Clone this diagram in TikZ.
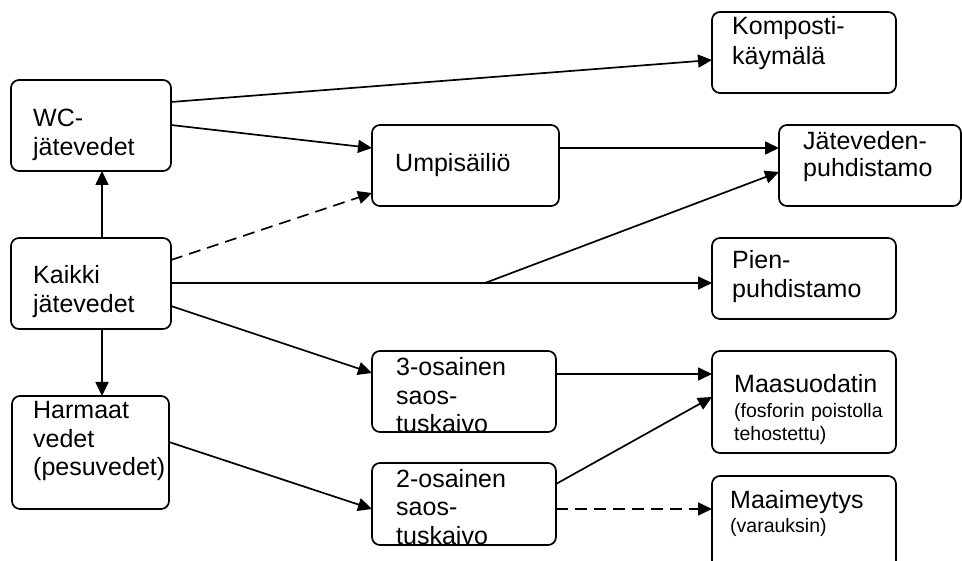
\documentclass[tikz,border=0pt]{standalone}
\usepackage{fontspec}
\setmainfont{Liberation Sans}
\usetikzlibrary{arrows.meta}
\begin{document}
\begin{tikzpicture}[x=1pt,y=-1pt,
  box/.style={draw, line width=1.7pt, rounded corners=8pt, outer sep=0pt, inner sep=0pt, anchor=north west},
  txt/.style={font=\fontsize{25}{28.5}\selectfont, align=left, text width=220pt, inner sep=0pt, anchor=base west},
  small/.style={font=\fontsize{19.5}{23}\selectfont, align=left, text width=220pt, inner sep=0pt, anchor=base west},
  conn/.style={line width=1.7pt, -{Triangle[length=14pt,width=13pt]}},
  dconn/.style={conn, dash pattern=on 12pt off 7pt}]
\useasboundingbox (0,0) rectangle (962,561);
% boxes
\node[box, minimum width=160pt, minimum height=91pt] (wc) at (11,80) {};
\node[box, minimum width=160pt, minimum height=91pt] (kaikki) at (11,238) {};
\node[box, minimum width=157pt, minimum height=113pt] (harmaat) at (12,396) {};
\node[box, minimum width=187pt, minimum height=81pt] (umpi) at (372,125) {};
\node[box, minimum width=184pt, minimum height=81pt] (kompo) at (712,12) {};
\node[box, minimum width=182pt, minimum height=81pt] (jpuhd) at (779,125) {};
\node[box, minimum width=184pt, minimum height=81pt] (pien) at (712,238) {};
\node[box, minimum width=184pt, minimum height=81pt] (s3) at (372,351) {};
\node[box, minimum width=184pt, minimum height=82pt] (s2) at (372,463) {};
\node[box, minimum width=184pt, minimum height=102pt] (maasu) at (712,351) {};
\node[box, minimum width=184pt, minimum height=110pt] (maaim) at (712,476) {};
% texts
\node[txt] (wct) at (33,127) {WC-\\jätevedet};
\node[txt] (kaikkit) at (33,284) {Kaikki\\jätevedet};
\node[txt] (harmaatt) at (33,419) {Harmaat\\vedet\\(pesuvedet)};
\node[txt] (umpit) at (395,172) {Umpisäiliö};
\node[txt, font=\fontsize{25}{30}\selectfont] (kompot) at (732,35) {Komposti-\\käymälä};
\node[txt, font=\fontsize{25}{27}\selectfont] (jpuhdt) at (803,150) {Jäteveden-\\puhdistamo};
\node[txt] (pient) at (732,269) {Pien-\\puhdistamo};
\begin{scope}
  \clip (s3.north west) rectangle (s3.south east);
  \node[txt] (s3t) at (396,376) {3-osainen\\saos-\\tuskaivo};
\end{scope}
\begin{scope}
  \clip (s2.north west) rectangle (s2.south east);
  \node[txt] (s2t) at (396,487) {2-osainen\\saos-\\tuskaivo};
\end{scope}
\node[txt] (maasut) at (734,393) {Maasuodatin};
\node[small] (maasus) at (734,418) {(fosforin poistolla\\tehostettu)};
\node[txt] (maaimt) at (730,508) {Maaimeytys};
\node[small] (maaims) at (730,532) {(varauksin)};
% connectors
\coordinate (junc) at (485,283);
\draw[conn] (wc.east |- 0,102) -- (kompo.west |- 0,60);
\draw[conn] (wc.east |- 0,125) -- (umpi.west |- 0,148);
\draw[conn] (kaikki.north -| 102,0) -- (wc.south -| 102,0);
\draw[dconn] (kaikki.east |- 0,260) -- (umpi.west |- 0,193);
\draw[conn] (umpi.east |- 0,148) -- (jpuhd.west |- 0,148);
\draw[conn] (kaikki.east |- 0,283) -- (pien.west |- 0,283);
\draw[conn] (junc) -- (jpuhd.west |- 0,172);
\draw[conn] (kaikki.east |- 0,306) -- (s3.west |- 0,373);
\draw[conn] (kaikki.south -| 102,0) -- (harmaat.north -| 102,0);
\draw[conn] (harmaat.east |- 0,442) -- (s2.west |- 0,509);
\draw[conn] (s3.east |- 0,374) -- (maasu.west |- 0,374);
\draw[conn] (s2.east |- 0,484) -- (maasu.west |- 0,397);
\draw[dconn] (s2.east |- 0,509) -- (maaim.west |- 0,509);
\end{tikzpicture}
\end{document}
